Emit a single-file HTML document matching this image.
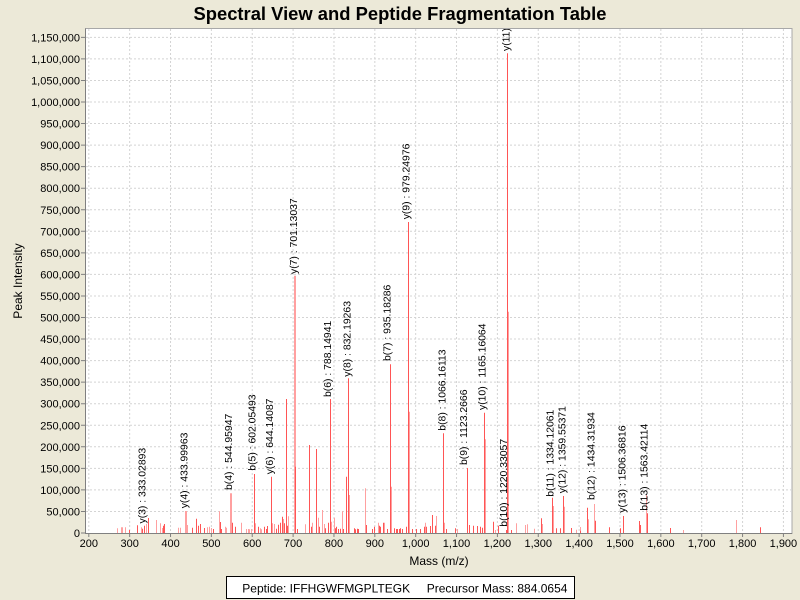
<!DOCTYPE html>
<html><head><meta charset="utf-8"><style>html,body{margin:0;padding:0;background:#ECE9D8;}svg{display:block;}</style></head><body>
<svg width="800" height="600" viewBox="0 0 800 600" xmlns="http://www.w3.org/2000/svg" font-family="'Liberation Sans', Arial, sans-serif">
<defs><clipPath id="pc"><rect x="86" y="29" width="706" height="504"/></clipPath></defs>
<rect x="0" y="0" width="800" height="600" fill="#ECE9D8"/>
<text x="400" y="20" font-size="18" font-weight="bold" text-anchor="middle" fill="#000" textLength="413" lengthAdjust="spacingAndGlyphs">Spectral View and Peptide Fragmentation Table</text>
<rect x="85.5" y="28.5" width="706.5" height="505" fill="#fff" stroke="#a8a8a8" stroke-width="1"/>
<path stroke="#d4d4d4" stroke-width="1" stroke-dasharray="2,2" fill="none" d="M86 511.45H792M86 489.9H792M86 468.35H792M86 446.8H792M86 425.25H792M86 403.7H792M86 382.15H792M86 360.6H792M86 339.05H792M86 317.5H792M86 295.95H792M86 274.4H792M86 252.85H792M86 231.3H792M86 209.75H792M86 188.2H792M86 166.65H792M86 145.1H792M86 123.55H792M86 102H792M86 80.45H792M86 58.9H792M86 37.35H792
M88.8 29V533M129.66 29V533M170.52 29V533M211.38 29V533M252.24 29V533M293.1 29V533M333.96 29V533M374.82 29V533M415.68 29V533M456.54 29V533M497.4 29V533M538.26 29V533M579.12 29V533M619.98 29V533M660.84 29V533M701.7 29V533M742.56 29V533M783.42 29V533"/>
<g clip-path="url(#pc)">
<path fill="none" stroke="#ffa0a0" stroke-width="1" d="M117.5 533V528.3M121.5 533V527.3M122.5 533V527.3M125.5 533V527.3M141.5 533V527.3M146.5 533V524M156.5 533V520M160.5 533V523.3M162.5 533V528M178.5 533V527.7M180.5 533V527.7M187.5 533V525M207.5 533V527.3M209.5 533V526.7M211.5 533V528M219.5 533V511.3M225.5 533V526.7M226.5 533V527.7M241.5 533V522.7M246.5 533V529M248.5 533V529M249.5 533V529.3M251.5 533V529M255.5 533V523.3M260.5 533V528.3M261.5 533V529.3M272.5 533V523.3M274.5 533V524M283.5 533V519M288.5 533V516.3M305.5 533V524.3M312.5 533V522.7M318.5 533V517.7M322.5 533V510M324.5 533V524M331.5 533V521.7M334.5 533V517.7M342.5 533V511.3M349.5 533V495M365.5 533V488.3M378.5 533V522.7M384.5 533V522.7M391.5 533V486.7M409.5 533V411.7M425.5 533V522.7M436.5 533V516M444.5 533V522.7M457.5 533V529M467.5 533V516.7M485.5 533V439.3M495.5 533V530M508.5 533V311.7M516.5 533V523.3M525.5 533V525M527.5 533V524.3M534.5 533V528.7M542.5 533V524M553.5 533V506M564.5 533V506.7M576.5 533V529.7M580.5 533V527M588.5 533V519.3M594.5 533V504M646.5 533V495M683.5 533V530M736.5 533V520"/>
<path fill="none" stroke="#ffa0a0" stroke-width="2" d="M295 533V275.7M186 533V511M231 533V493.3"/>
<path fill="none" stroke="#ff5555" stroke-width="1" d="M129.5 533V530M137.5 533V525.3M142.5 533V528.7M144.5 533V525.7M148.5 533V518M163.5 533V525.7M164.5 533V524M192.5 533V527.7M196.5 533V518.7M198.5 533V525.7M200.5 533V524M204.5 533V528M213.5 533V529M220.5 533V522M221.5 533V529M232.5 533V522.7M235.5 533V526.7M254.5 533V474M258.5 533V526.7M264.5 533V526.7M266.5 533V529M267.5 533V526M271.5 533V476.7M276.5 533V528.7M278.5 533V524.7M280.5 533V522.7M282.5 533V516.7M284.5 533V523.3M286.5 533V399M287.5 533V525.7M295.5 533V466.7M297.5 533V529M309.5 533V445M311.5 533V526.7M316.5 533V449M319.5 533V526.7M325.5 533V528.3M328.5 533V522.7M330.5 533V399M335.5 533V528.3M336.5 533V526.7M338.5 533V529M340.5 533V528.7M343.5 533V529M346.5 533V476.7M348.5 533V378.3M354.5 533V528.3M355.5 533V529.3M357.5 533V528.7M358.5 533V529M366.5 533V525M372.5 533V529M374.5 533V526.7M379.5 533V525.7M380.5 533V526.7M383.5 533V522.7M387.5 533V529M390.5 533V364.3M394.5 533V528.3M396.5 533V529M397.5 533V529M399.5 533V529M400.5 533V528.3M402.5 533V529M406.5 533V526.7M408.5 533V222M412.5 533V529M416.5 533V529M420.5 533V529M424.5 533V526.7M426.5 533V526.7M430.5 533V526M432.5 533V515M435.5 533V525.7M443.5 533V433.3M446.5 533V529M455.5 533V528.3M467.5 533V468M469.5 533V525M473.5 533V525.7M477.5 533V526M480.5 533V526.7M482.5 533V527.7M484.5 533V412.7M493.5 533V521.7M498.5 533V525.7M506.5 533V530M507.5 533V53.3M511.5 533V530M541.5 533V518.3M552.5 533V497.7M556.5 533V528.3M560.5 533V528.3M563.5 533V496M571.5 533V528M580.5 533V530.7M587.5 533V507.7M595.5 533V520.7M609.5 533V527.3M620.5 533V528.3M623.5 533V516M639.5 533V521M640.5 533V525M647.5 533V513.3M670.5 533V528M760.5 533V527.3"/>
<g font-size="10.4" fill="#000">
<text transform="translate(145.4,523.5) rotate(-90)">y(3) : 333.02893</text>
<text transform="translate(187.7,508.3) rotate(-90)">y(4) : 433.99963</text>
<text transform="translate(232,490) rotate(-90)">b(4) : 544.95947</text>
<text transform="translate(255.4,470.7) rotate(-90)">b(5) : 602.05493</text>
<text transform="translate(273,474.3) rotate(-90)">y(6) : 644.14087</text>
<text transform="translate(297,274) rotate(-90)">y(7) : 701.13037</text>
<text transform="translate(331.2,397) rotate(-90)">b(6) : 788.14941</text>
<text transform="translate(350.4,376.7) rotate(-90)">y(8) : 832.19263</text>
<text transform="translate(390.4,361) rotate(-90)">b(7) : 935.18286</text>
<text transform="translate(409.4,219.3) rotate(-90)">y(9) : 979.24976</text>
<text transform="translate(445.4,430.7) rotate(-90)">b(8) : 1066.16113</text>
<text transform="translate(467,465) rotate(-90)">b(9) : 1123.2666</text>
<text transform="translate(485.4,410) rotate(-90)">y(10) : 1165.16064</text>
<text transform="translate(507,526.7) rotate(-90)">b(10) : 1220.33057</text>
<text transform="translate(509.7,51) rotate(-90)">y(11) : 1222.27661</text>
<text transform="translate(553.7,496.7) rotate(-90)">b(11) : 1334.12061</text>
<text transform="translate(565.4,493.3) rotate(-90)">y(12) : 1359.55371</text>
<text transform="translate(594.4,500) rotate(-90)">b(12) : 1434.31934</text>
<text transform="translate(625.4,512.7) rotate(-90)">y(13) : 1506.36816</text>
<text transform="translate(647.7,510.7) rotate(-90)">b(13) : 1563.42114</text>
</g>
</g>
<path fill="none" stroke="#808080" stroke-width="1" d="M85.5 28.5V533.5H792M81 533H85.5M81 511.45H85.5M81 489.9H85.5M81 468.35H85.5M81 446.8H85.5M81 425.25H85.5M81 403.7H85.5M81 382.15H85.5M81 360.6H85.5M81 339.05H85.5M81 317.5H85.5M81 295.95H85.5M81 274.4H85.5M81 252.85H85.5M81 231.3H85.5M81 209.75H85.5M81 188.2H85.5M81 166.65H85.5M81 145.1H85.5M81 123.55H85.5M81 102H85.5M81 80.45H85.5M81 58.9H85.5M81 37.35H85.5
M88.8 533.5V537M129.66 533.5V537M170.52 533.5V537M211.38 533.5V537M252.24 533.5V537M293.1 533.5V537M333.96 533.5V537M374.82 533.5V537M415.68 533.5V537M456.54 533.5V537M497.4 533.5V537M538.26 533.5V537M579.12 533.5V537M619.98 533.5V537M660.84 533.5V537M701.7 533.5V537M742.56 533.5V537M783.42 533.5V537"/>
<g font-size="11" fill="#000" text-anchor="end">
<text x="80" y="537">0</text>
<text x="80" y="515.45">50,000</text>
<text x="80" y="493.9">100,000</text>
<text x="80" y="472.35">150,000</text>
<text x="80" y="450.8">200,000</text>
<text x="80" y="429.25">250,000</text>
<text x="80" y="407.7">300,000</text>
<text x="80" y="386.15">350,000</text>
<text x="80" y="364.6">400,000</text>
<text x="80" y="343.05">450,000</text>
<text x="80" y="321.5">500,000</text>
<text x="80" y="299.95">550,000</text>
<text x="80" y="278.4">600,000</text>
<text x="80" y="256.85">650,000</text>
<text x="80" y="235.3">700,000</text>
<text x="80" y="213.75">750,000</text>
<text x="80" y="192.2">800,000</text>
<text x="80" y="170.65">850,000</text>
<text x="80" y="149.1">900,000</text>
<text x="80" y="127.55">950,000</text>
<text x="80" y="106">1,000,000</text>
<text x="80" y="84.45">1,050,000</text>
<text x="80" y="62.9">1,100,000</text>
<text x="80" y="41.35">1,150,000</text>
</g>
<g font-size="11" fill="#000" text-anchor="middle">
<text x="88.8" y="547">200</text>
<text x="129.66" y="547">300</text>
<text x="170.52" y="547">400</text>
<text x="211.38" y="547">500</text>
<text x="252.24" y="547">600</text>
<text x="293.1" y="547">700</text>
<text x="333.96" y="547">800</text>
<text x="374.82" y="547">900</text>
<text x="415.68" y="547">1,000</text>
<text x="456.54" y="547">1,100</text>
<text x="497.4" y="547">1,200</text>
<text x="538.26" y="547">1,300</text>
<text x="579.12" y="547">1,400</text>
<text x="619.98" y="547">1,500</text>
<text x="660.84" y="547">1,600</text>
<text x="701.7" y="547">1,700</text>
<text x="742.56" y="547">1,800</text>
<text x="783.42" y="547">1,900</text>
</g>
<text x="439" y="565" font-size="12" text-anchor="middle" fill="#000">Mass (m/z)</text>
<text transform="translate(22,281) rotate(-90)" font-size="12" text-anchor="middle" fill="#000">Peak Intensity</text>
<rect x="226.5" y="576.5" width="348" height="22" fill="#fff" stroke="#000" stroke-width="1"/>
<text x="242.3" y="592.3" font-size="12" fill="#000">Peptide: IFFHGWFMGPLTEGK</text>
<text x="426.7" y="592.3" font-size="12" fill="#000">Precursor Mass: 884.0654</text>
</svg>
</body></html>
